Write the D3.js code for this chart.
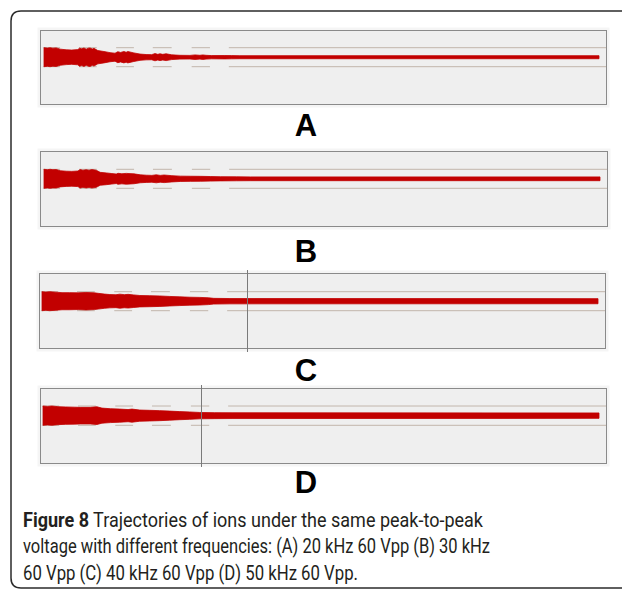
<!DOCTYPE html>
<html>
<head>
<meta charset="utf-8">
<script src="https://cdn.jsdelivr.net/npm/d3@7"></script>
<style>
  body { margin: 0; background: #fff; }
  svg { display: block; }
</style>
</head>
<body>
<div id="chart"></div>
<script>
// panel labels and run conditions
const panelLabels = ["A", "B", "C", "D"];
const frequencies = ["20 kHz", "30 kHz", "40 kHz", "50 kHz"];

// ion envelope: [time step, half amplitude relative to the guide lines]
const envA = [[0,1.0],[6,0.96],[11,1.0],[16,0.95],[22,0.98],[29,0.85],[40,0.78],[50,0.75],[61,0.8],[64,0.95],[68,0.88],[72,0.97],
  [76,0.85],[80,0.95],[83,0.97],[87,0.86],[90,0.93],[97,0.7],[108,0.6],[119,0.48],[128,0.42],[133,0.58],[138,0.5],[144,0.6],
  [148,0.52],[151,0.6],[162,0.45],[173,0.33],[184,0.28],[194,0.27],[200,0.38],[205,0.3],[209,0.36],[214,0.3],[220,0.36],
  [230,0.25],[245,0.2],[263,0.19],[272,0.24],[281,0.2],[286,0.24],[292,0.2],[302,0.17],[326,0.18],[338,0.17],
  [353,0.16],[1000,0.16]];
const envB = [[0,1.0],[6,0.96],[11,1.0],[16,0.96],[22,0.97],[29,0.85],[40,0.8],[50,0.78],[61,0.82],[65,0.97],[70,0.9],[76,0.96],
  [81,0.9],[86,0.97],[94,0.9],[101,0.68],[112,0.62],[122,0.55],[130,0.5],[133,0.58],[140,0.53],[148,0.57],[162,0.52],
  [173,0.42],[184,0.38],[194,0.36],[202,0.42],[209,0.36],[216,0.4],[230,0.33],[245,0.28],[263,0.27],[281,0.26],
  [299,0.24],[317,0.22],[346,0.21],[371,0.2],[1000,0.2]];
const envC = [[0,1.0],[7,0.96],[14,1.0],[25,0.95],[36,0.9],[50,0.9],[65,0.88],[79,0.92],[94,0.88],[101,0.83],[112,0.75],
  [122,0.7],[133,0.68],[140,0.74],[148,0.69],[155,0.72],[165,0.66],[176,0.6],[194,0.58],[212,0.55],[230,0.5],[248,0.46],
  [266,0.42],[284,0.4],[299,0.36],[309,0.3],[338,0.28],[1000,0.27]];
const envD = [[0,1.0],[8,0.96],[16,1.0],[27,0.93],[41,0.9],[56,0.88],[67,0.86],[85,0.86],[97,0.92],[106,0.78],[121,0.72],
  [138,0.68],[153,0.63],[160,0.68],[174,0.58],[192,0.55],[210,0.52],[228,0.47],[246,0.42],[264,0.38],[282,0.33],
  [309,0.31],[340,0.3],[1000,0.28]];
const envelopes = [envA, envB, envC, envD];

// vertical marker (time step) shown in C and D
const markers = [null, null, 369, 284];

// dashed guide segments in time steps
const guideDash = [[-2,29],[63,95],[130,162],[196,230],[266,299],[333,1025]];

const captionLines = [
  ["Figure 8", " Trajectories of ions under the same peak-to-peak"],
  ["", "voltage with different frequencies: (A) 20 kHz 60 Vpp (B) 30 kHz"],
  ["", "60 Vpp (C) 40 kHz 60 Vpp (D) 50 kHz 60 Vpp."]
];

const width = 622, height = 594;
const svg = d3.select('#chart').append('svg')
  .attr('width', width)
  .attr('height', height);

// outer frame (open to the right)
svg.append('path')
  .attr('d', `M${width + 5},11 H21 Q11,11 11,21 V578 Q11,588 21,588 H${width + 5}`)
  .attr('fill', 'none')
  .attr('stroke', '#2b2b2b')
  .attr('stroke-width', 1.5);

// layout of each panel box
const layout = [
  {x0: 40, x1: 607, top: 30,  bottom: 105, gTop: 47.7,  gBot: 66.7,  r0: 44, r1: 599, label: 136},
  {x0: 40, x1: 608, top: 151, bottom: 227, gTop: 169.3, gBot: 188.3, r0: 44, r1: 600, label: 262},
  {x0: 39, x1: 606, top: 273, bottom: 349, gTop: 291.7, gBot: 310.7, r0: 42, r1: 598, label: 381},
  {x0: 40, x1: 607, top: 388, bottom: 464, gTop: 406,   gBot: 425.3, r0: 43, r1: 599, label: 493}
];

const red = '#c20000';

layout.forEach((p, i) => {
  const g = svg.append('g');
  const x = d3.scaleLinear().domain([0, 1000]).range([p.r0, p.r1]);
  const y = d3.scaleLinear().domain([-1, 1]).range([p.gBot, p.gTop]);

  // light halo + box
  g.append('rect')
    .attr('x', p.x0 - 2.5).attr('y', p.top - 2.5)
    .attr('width', p.x1 - p.x0 + 5).attr('height', p.bottom - p.top + 5)
    .attr('fill', '#f5f5f5');
  g.append('rect')
    .attr('x', p.x0 + 0.5).attr('y', p.top + 0.5)
    .attr('width', p.x1 - p.x0 - 1).attr('height', p.bottom - p.top - 1)
    .attr('fill', '#efefef')
    .attr('stroke', '#8a8a8a')
    .attr('stroke-width', 1);

  // guide lines (dashed near the start)
  [-1, 1].forEach(v => {
    g.selectAll(null)
      .data(guideDash)
      .enter()
      .append('line')
        .attr('x1', d => Math.max(p.x0 + 1, x(d[0])))
        .attr('x2', d => Math.min(p.x1 - 1, x(d[1])))
        .attr('y1', y(v)).attr('y2', y(v))
        .attr('stroke', '#c2b6ac')
        .attr('stroke-width', 1);
  });

  // ion trajectory envelope
  const area = d3.area()
    .x(d => x(d[0]))
    .y0(d => y(-d[1]))
    .y1(d => y(d[1]))
    .curve(d3.curveLinear);
  g.append('path')
    .datum(envelopes[i])
    .attr('d', area)
    .attr('fill', red)
    .attr('stroke', red)
    .attr('stroke-width', 0.8);

  // vertical marker
  if (markers[i] !== null) {
    g.append('line')
      .attr('x1', Math.round(x(markers[i])) + 0.5)
      .attr('x2', Math.round(x(markers[i])) + 0.5)
      .attr('y1', p.top - 3).attr('y2', p.bottom + 3)
      .attr('stroke', '#7a7a7a')
      .attr('stroke-width', 1);
  }

  // panel letter
  svg.append('text')
    .attr('x', 306)
    .attr('y', p.label)
    .attr('text-anchor', 'middle')
    .attr('font-family', 'Liberation Sans, Arial, sans-serif')
    .attr('font-weight', 'bold')
    .attr('font-size', 31)
    .attr('fill', '#000')
    .text(panelLabels[i]);
});

// caption
const capWidths = [460, 467, 335];
captionLines.forEach((ln, i) => {
  const t = svg.append('text')
    .attr('x', 23)
    .attr('y', 527 + i * 26.3)
    .attr('font-family', 'Roboto, "Open Sans", sans-serif')
    .attr('font-size', 19.5)
    .attr('fill', '#231f20')
    .attr('textLength', capWidths[i])
    .attr('lengthAdjust', 'spacingAndGlyphs');
  if (ln[0]) t.append('tspan').attr('font-weight', 'bold').text(ln[0]);
  t.append('tspan').text(ln[1]);
});
</script>
</body>
</html>
